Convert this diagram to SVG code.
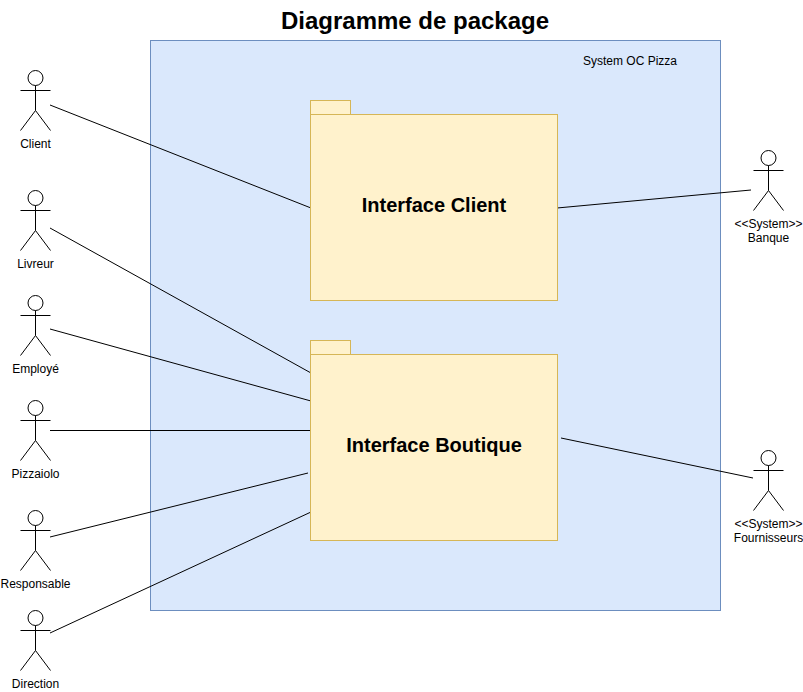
<svg xmlns="http://www.w3.org/2000/svg" width="803" height="692" viewBox="0 0 803 692">
<style>
text{font-family:"Liberation Sans",Arial,sans-serif;fill:#000}
.l{font-size:12px;text-anchor:middle}
.p{font-size:20px;font-weight:bold;text-anchor:middle}
.a{fill:#fff;stroke:#000;stroke-width:1}
.c{fill:none;stroke:#000;stroke-width:1}
.f{fill:#fff2cc;stroke:#d6b656;stroke-width:1}
</style>
<defs>
<g id="actor" class="a"><circle cx="15" cy="7.500" r="7.500"/><path class="c" d="M15 15V40M0 20H30M15 40L0 60M15 40L30 60"/></g>
</defs>
<rect width="803" height="692" fill="#fff"/>
<text x="415" y="29" font-size="24" font-weight="bold" text-anchor="middle">Diagramme de package</text>
<g id="system"><rect x="150.500" y="40.500" width="570" height="570" fill="#dae8fc" stroke="#6c8ebf"/><text class="l" x="630" y="65">System OC Pizza</text></g>
<g id="connectors" class="c">
<path d="M50 105L311 208"/><path d="M50 228L311 373"/><path d="M50 329L311 401"/><path d="M50 430.500H311"/><path d="M50 537L308 473"/><path d="M50 633L311 512"/><path d="M557 208L751 190"/><path d="M561 438L753 478"/>
</g>
<g id="interface-client"><rect class="f" x="310.500" y="100.500" width="40" height="14"/><rect class="f" x="310.500" y="114.500" width="247" height="186"/><text class="p" x="434" y="212">Interface Client</text></g>
<g id="interface-boutique"><rect class="f" x="310.500" y="340.500" width="40" height="14"/><rect class="f" x="310.500" y="354.500" width="247" height="186"/><text class="p" x="434" y="452">Interface Boutique</text></g>
<g id="client"><use href="#actor" x="20.500" y="70.500"/><text class="l" x="35.500" y="148">Client</text></g>
<g id="livreur"><use href="#actor" x="20.500" y="190.500"/><text class="l" x="35.500" y="268">Livreur</text></g>
<g id="employe"><use href="#actor" x="20.500" y="295.500"/><text class="l" x="35.500" y="373">Employé</text></g>
<g id="pizzaiolo"><use href="#actor" x="20.500" y="400.500"/><text class="l" x="35.500" y="478">Pizzaiolo</text></g>
<g id="responsable"><use href="#actor" x="20.500" y="510.500"/><text class="l" x="35.500" y="588">Responsable</text></g>
<g id="direction"><use href="#actor" x="20.500" y="610.500"/><text class="l" x="35.500" y="688">Direction</text></g>
<g id="banque"><use href="#actor" x="753.500" y="150.500"/><text class="l" x="768.500" y="228">&lt;&lt;System&gt;&gt;</text><text class="l" x="768.500" y="242">Banque</text></g>
<g id="fournisseurs"><use href="#actor" x="753.500" y="450.500"/><text class="l" x="768.500" y="528">&lt;&lt;System&gt;&gt;</text><text class="l" x="768.500" y="542">Fournisseurs</text></g>
</svg>
